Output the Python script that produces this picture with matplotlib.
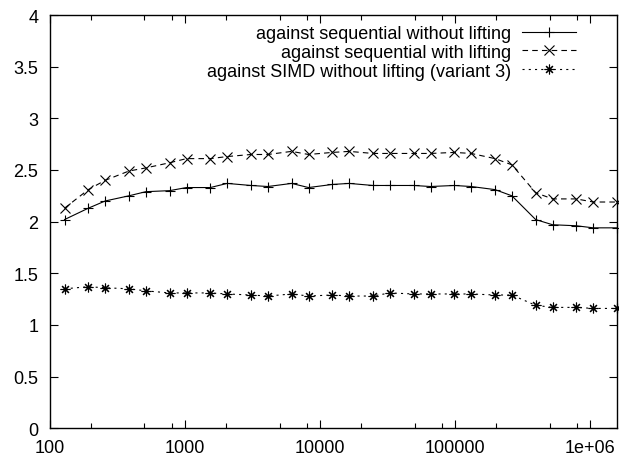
"""Speedup of the SIMD wavelet transform, gnuplot look."""
import matplotlib
matplotlib.use("Agg")
import matplotlib.pyplot as plt
from matplotlib.ticker import FixedLocator, NullFormatter

# problem sizes: 128 * {1, 1.5, 2, 3, ...} up to 1.5 * 2^20
sizes = [128, 192, 256, 384, 512, 768, 1024, 1536, 2048, 3072, 4096,
         6144, 8192, 12288, 16384, 24576, 32768, 49152, 65536, 98304,
         131072, 196608, 262144, 393216, 524288, 786432, 1048576, 1572864]

seq_no_lifting = [2.02, 2.13, 2.20, 2.25, 2.29, 2.30, 2.33, 2.33, 2.37,
                  2.35, 2.34, 2.37, 2.33, 2.36, 2.37, 2.35, 2.35, 2.35,
                  2.34, 2.35, 2.34, 2.31, 2.25, 2.02, 1.97, 1.96, 1.94, 1.94]

seq_lifting = [2.13, 2.31, 2.40, 2.49, 2.52, 2.57, 2.61, 2.61, 2.63,
               2.65, 2.65, 2.68, 2.65, 2.67, 2.68, 2.66, 2.66, 2.66,
               2.66, 2.67, 2.66, 2.61, 2.55, 2.28, 2.22, 2.22, 2.19, 2.19]

simd_no_lifting = [1.35, 1.37, 1.36, 1.35, 1.33, 1.31, 1.31, 1.31, 1.30,
                   1.29, 1.28, 1.30, 1.28, 1.29, 1.28, 1.28, 1.31, 1.30,
                   1.30, 1.30, 1.30, 1.29, 1.29, 1.19, 1.17, 1.17, 1.16, 1.16]

labels = ["against sequential without lifting",
          "against sequential with lifting",
          "against SIMD without lifting (variant 3)"]

x_ticks = [100, 1000, 10000, 100000, 1000000]
x_tick_labels = ["100", "1000", "10000", "100000", "1e+06"]
y_ticks = [0, 0.5, 1, 1.5, 2, 2.5, 3, 3.5, 4]
y_tick_labels = ["0", "0.5", "1", "1.5", "2", "2.5", "3", "3.5", "4"]

plt.rcParams["font.family"] = ["Liberation Sans", "DejaVu Sans"]
plt.rcParams["font.size"] = 13
plt.rcParams["lines.scale_dashes"] = False

fig = plt.figure(figsize=(6.19, 4.56), dpi=100)
ax = fig.add_axes([0.0808, 0.0586, 0.916, 0.9063])

asterisk = (8, 2, 0)  # gnuplot point type 3: + and x on top of each other
series = [
    (seq_no_lifting, "-", "+"),
    (seq_lifting, (0, (4, 3)), "x"),
    (simd_no_lifting, (0, (1.5, 3)), asterisk),
]
for (values, style, marker), label in zip(series, labels):
    ax.plot(sizes, values, color="black", linestyle=style, linewidth=0.8,
            marker=marker, markersize=7, markeredgewidth=0.8,
            label=label, clip_on=False)

ax.set_xscale("log")
ax.set_xlim(100, 1572864)
ax.set_ylim(0, 4)

ax.xaxis.set_major_locator(FixedLocator(x_ticks))
ax.set_xticklabels(x_tick_labels)
minor = [m * 10 ** e for e in range(2, 7) for m in (2, 5, 8)]
ax.xaxis.set_minor_locator(FixedLocator(minor))
ax.xaxis.set_minor_formatter(NullFormatter())
ax.set_yticks(y_ticks)
ax.set_yticklabels(y_tick_labels)

ax.tick_params(which="both", direction="in", top=True, right=True,
               width=0.8, color="black")
ax.tick_params(which="major", length=6)
ax.tick_params(which="minor", length=3.5)
ax.tick_params(axis="x", pad=7.5)
ax.tick_params(axis="y", pad=8.5)
for spine in ax.spines.values():
    spine.set_linewidth(1.0)

ax.legend(loc="upper right", bbox_to_anchor=(0.9277, 0.976),
          frameon=False, markerfirst=False, numpoints=1,
          handlelength=3.0, handletextpad=0.6, labelspacing=0.1,
          borderpad=0, borderaxespad=0, fontsize=13)

fig.savefig("out.png", dpi=100)
